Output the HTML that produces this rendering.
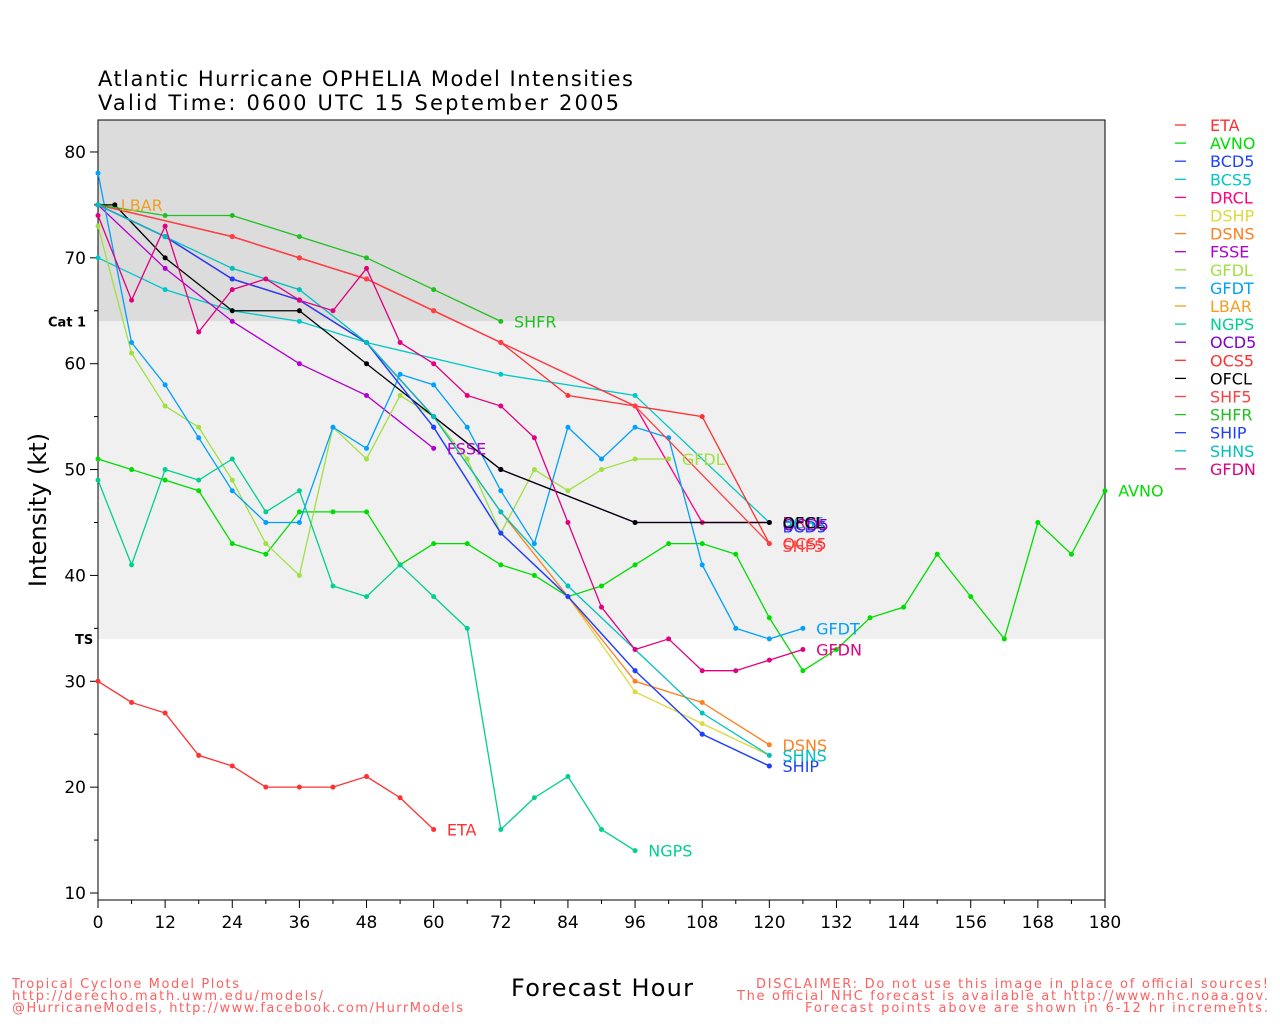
<!DOCTYPE html>
<html><head><meta charset="utf-8"><style>
html,body{margin:0;padding:0;background:#fff;width:1280px;height:1024px;overflow:hidden}
svg text{font-family:"DejaVu Sans","Liberation Sans",sans-serif}
</style></head><body>
<svg id="c" width="1280" height="1024" xmlns="http://www.w3.org/2000/svg"></svg>
<script>
const s=document.getElementById('c');
const X=h=>98+h*(1007/180), Y=v=>893-(v-10)*10.586;
let o='';
o+=`<rect x="98" y="120" width="1007" height="${Y(64)-120}" fill="#dcdcdc"/>`;
o+=`<rect x="98" y="${Y(64)}" width="1007" height="${Y(34)-Y(64)}" fill="#f0f0f0"/>`;
o+=`<rect x="98" y="120" width="1007" height="780" fill="none" stroke="#000" stroke-width="1"/>`;
for(let h=0;h<=180;h+=12){o+=`<line x1="${X(h)}" y1="900" x2="${X(h)}" y2="908" stroke="#000"/><text x="${X(h)}" y="928" font-size="17" text-anchor="middle">${h}</text>`;}
for(let h=6;h<180;h+=12){o+=`<line x1="${X(h)}" y1="900" x2="${X(h)}" y2="904" stroke="#000"/>`;}
for(let v=10;v<=80;v+=10){o+=`<line x1="90" y1="${Y(v)}" x2="98" y2="${Y(v)}" stroke="#000"/><text x="86" y="${Y(v)+6}" font-size="17" text-anchor="end">${v}</text>`;}
for(let v=15;v<=80;v+=10){o+=`<line x1="94" y1="${Y(v)}" x2="98" y2="${Y(v)}" stroke="#000"/>`;}
o+=`<text x="48" y="${Y(64)+5}" font-size="13" font-weight="bold">Cat 1</text><text x="75" y="${Y(34)+5}" font-size="13" font-weight="bold">TS</text>`;
o+=`<text x="98" y="86" font-size="21" textLength="535" lengthAdjust="spacing">Atlantic Hurricane OPHELIA Model Intensities</text><text x="98" y="110" font-size="21" textLength="521" lengthAdjust="spacing">Valid Time: 0600 UTC 15 September 2005</text>`;
o+=`<text x="46" y="510" font-size="24" text-anchor="middle" transform="rotate(-90 46 510)">Intensity (kt)</text>`;
o+=`<text x="511" y="996" font-size="24" textLength="182" lengthAdjust="spacing">Forecast Hour</text>`;
const ser=[
['ETA','#ff3030',[[0,30],[6,28],[12,27],[18,23],[24,22],[30,20],[36,20],[42,20],[48,21],[54,19],[60,16]]],
['AVNO','#00dd00',[[0,51],[6,50],[12,49],[18,48],[24,43],[30,42],[36,46],[42,46],[48,46],[54,41],[60,43],[66,43],[72,41],[78,40],[84,38],[90,39],[96,41],[102,43],[108,43],[114,42],[120,36],[126,31],[132,33],[138,36],[144,37],[150,42],[156,38],[162,34],[168,45],[174,42],[180,48]]],
['BCD5','#2040ff',[[0,75],[12,72],[24,68],[36,66],[48,62],[60,54],[72,44],[84,38],[96,31],[108,25],[120,22]]],
['BCS5','#00c8c8',[[0,70],[12,67],[24,65],[36,64],[48,62],[72,59],[96,57],[120,45]]],
['DRCL','#ff0080',[[0,75],[24,72],[36,70],[48,68],[60,65],[72,62],[96,56],[108,45],[120,45]]],
['DSHP','#e0d840',[[0,75],[12,72],[24,68],[36,66],[48,62],[60,55],[72,46],[84,38],[96,29],[108,26],[120,23]]],
['DSNS','#ff8020',[[0,75],[12,72],[24,68],[36,66],[48,62],[60,55],[72,46],[84,38],[96,30],[108,28],[120,24]]],
['FSSE','#b000d0',[[0,75],[12,69],[24,64],[36,60],[48,57],[60,52]]],
['GFDL','#a0e040',[[0,73],[6,61],[12,56],[18,54],[24,49],[30,43],[36,40],[42,54],[48,51],[54,57],[60,55],[66,51],[72,44],[78,50],[84,48],[90,50],[96,51],[102,51]]],
['GFDT','#00a0ff',[[0,78],[6,62],[12,58],[18,53],[24,48],[30,45],[36,45],[42,54],[48,52],[54,59],[60,58],[66,54],[72,48],[78,43],[84,54],[90,51],[96,54],[102,53],[108,41],[114,35],[120,34],[126,35]]],
['LBAR','#f0a020',[[0,75],[3,75]]],
['NGPS','#00d090',[[0,49],[6,41],[12,50],[18,49],[24,51],[30,46],[36,48],[42,39],[48,38],[54,41],[60,38],[66,35],[72,16],[78,19],[84,21],[90,16],[96,14]]],
['OCD5','#8000d0',[[0,75],[12,72],[24,68],[36,66],[48,62],[60,55],[72,50],[96,45],[120,45]]],
['OCS5','#ff3030',[[0,75],[24,72],[36,70],[48,68],[60,65],[72,62],[84,57],[96,56],[108,55],[120,43]]],
['OFCL','#000000',[[0,75],[3,75],[12,70],[24,65],[36,65],[48,60],[72,50],[96,45],[120,45]]],
['SHF5','#ff4040',[[0,75],[24,72],[36,70],[48,68],[60,65],[72,62],[96,56],[120,43]]],
['SHFR','#20c020',[[0,75],[12,74],[24,74],[36,72],[48,70],[60,67],[72,64]]],
['SHIP','#2040ff',[[0,75],[12,72],[24,68],[36,66],[48,62],[60,54],[72,44],[84,38],[96,31],[108,25],[120,22]]],
['SHNS','#00c0c0',[[0,75],[12,72],[24,69],[36,67],[48,62],[60,55],[72,46],[84,39],[96,33],[108,27],[120,23]]],
['GFDN','#e00080',[[0,74],[6,66],[12,73],[18,63],[24,67],[30,68],[36,66],[42,65],[48,69],[54,62],[60,60],[66,57],[72,56],[78,53],[84,45],[90,37],[96,33],[102,34],[108,31],[114,31],[120,32],[126,33]]]];
const lab={ETA:[62,16],AVNO:[182,48],BCD5:[122,44.6],BCS5:[122,45],DRCL:[122,45],OCD5:[122,44.8],DSNS:[122,24],FSSE:[62,52],GFDL:[104,51],GFDT:[128,35],LBAR:[3,75],NGPS:[98,14],OCS5:[122,43],SHF5:[122,42.8],OFCL:[122,45],SHFR:[74,64],SHIP:[122,22],SHNS:[122,23],GFDN:[128,33]};
ser.forEach(([n,c,p])=>{
 o+=`<polyline fill="none" stroke="${c}" stroke-width="1.3" points="${p.map(q=>X(q[0])+','+Y(q[1])).join(' ')}"/>`;
 p.forEach(q=>o+=`<circle cx="${X(q[0])}" cy="${Y(q[1])}" r="2.5" fill="${c}"/>`);
});
ser.forEach(([n,c])=>{if(lab[n]){const [h,v]=lab[n];o+=`<text x="${X(h)+(n=='LBAR'?6:2)}" y="${Y(v)+6}" font-size="16" fill="${c}">${n}</text>`;}});
ser.forEach(([n,c],i)=>{const y=125+i*18.1;o+=`<line x1="1175" y1="${y}" x2="1186" y2="${y}" stroke="${c}" stroke-width="1.3"/><text x="1210" y="${y+6}" font-size="16" fill="${c}">${n}</text>`;});
const rc='#ff6060';
o+=`<text x="12" y="988" font-size="13" fill="${rc}" textLength="227" lengthAdjust="spacing">Tropical Cyclone Model Plots</text><text x="12" y="1000" font-size="13" fill="${rc}" textLength="311" lengthAdjust="spacing">http://derecho.math.uwm.edu/models/</text><text x="12" y="1012" font-size="13" fill="${rc}" textLength="451" lengthAdjust="spacing">@HurricaneModels, http://www.facebook.com/HurrModels</text>`;
o+=`<text x="756" y="988" font-size="13" fill="${rc}" textLength="512" lengthAdjust="spacing">DISCLAIMER: Do not use this image in place of official sources!</text><text x="737" y="1000" font-size="13" fill="${rc}" textLength="531" lengthAdjust="spacing">The official NHC forecast is available at http://www.nhc.noaa.gov.</text><text x="805" y="1012" font-size="13" fill="${rc}" textLength="463" lengthAdjust="spacing">Forecast points above are shown in 6-12 hr increments.</text>`;
s.innerHTML=o;
</script>
</body></html>
